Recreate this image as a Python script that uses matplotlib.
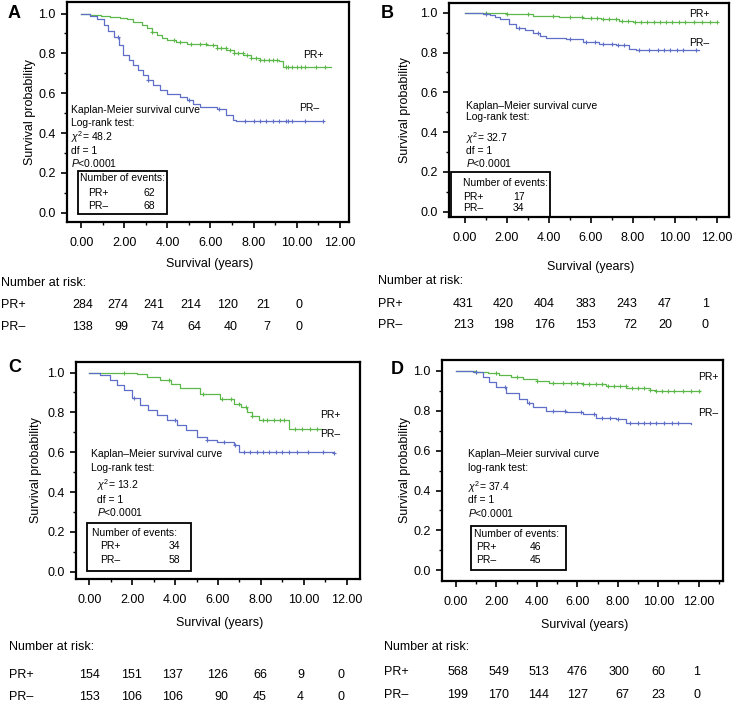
import matplotlib
matplotlib.use('Agg')
import matplotlib.pyplot as plt
from matplotlib.patches import Rectangle
from matplotlib.ticker import MultipleLocator, FormatStrFormatter
import numpy as np

plt.rcParams['font.family'] = ['Liberation Sans', 'DejaVu Sans']
plt.rcParams['mathtext.fontset'] = 'custom'
plt.rcParams['mathtext.rm'] = 'Liberation Sans'
plt.rcParams['mathtext.it'] = 'Liberation Sans:italic'

GREEN = '#5cb84a'
BLUE = '#5f6fc8'

# ---- survival curves (time in years, survival) ----
a_pos_t = [0, 0.42, 0.9, 1.34, 1.8, 2.11, 2.42, 2.8, 3.04, 3.3, 3.5, 3.75, 3.97, 4.4, 4.89,
           5.4, 5.82, 6.3, 6.74, 7.1, 7.52, 7.9, 8.29, 9.2, 9.37, 11.6]
a_pos_s = [1.0, 0.995, 0.99, 0.983, 0.978, 0.975, 0.958, 0.94, 0.925, 0.905, 0.891, 0.878, 0.866,
           0.858, 0.849, 0.845, 0.84, 0.828, 0.815, 0.803, 0.79, 0.778, 0.765, 0.76, 0.732, 0.732]
a_neg_t = [0, 0.42, 0.73, 1.04, 1.25, 1.5, 1.75, 1.96, 2.2, 2.42, 2.65, 2.89, 3.1, 3.35, 3.65,
           3.97, 4.58, 4.89, 5.2, 5.51, 6.28, 6.74, 7.05, 7.2, 11.2]
a_neg_s = [1.0, 0.99, 0.975, 0.941, 0.91, 0.883, 0.84, 0.791, 0.765, 0.741, 0.715, 0.69, 0.665,
           0.64, 0.618, 0.598, 0.581, 0.564, 0.548, 0.531, 0.523, 0.49, 0.464, 0.46, 0.46]

b_pos_t = [0, 1.0, 2.0, 3.26, 4.5, 5.63, 6.5, 7.37, 8.0, 12.0]
b_pos_s = [1.0, 0.998, 0.993, 0.985, 0.98, 0.973, 0.967, 0.961, 0.951, 0.951]
b_neg_t = [0, 0.88, 1.2, 1.45, 1.68, 2.1, 2.47, 2.9, 3.26, 3.6, 3.89, 4.84, 5.63, 6.42, 7.21,
           7.84, 8.15, 11.16]
b_neg_s = [1.0, 0.996, 0.99, 0.98, 0.967, 0.945, 0.925, 0.912, 0.9, 0.885, 0.871, 0.866, 0.853,
           0.844, 0.836, 0.819, 0.811, 0.811]

c_pos_t = [0, 2.22, 2.68, 3.3, 3.8, 4.24, 5.17, 6.1, 6.73, 7.05, 7.35, 7.6, 7.9, 9.3, 10.78]
c_pos_s = [1.0, 0.995, 0.979, 0.962, 0.94, 0.92, 0.894, 0.869, 0.844, 0.825, 0.802, 0.78, 0.76,
           0.718, 0.718]
c_neg_t = [0, 0.5, 0.97, 1.3, 1.6, 2.0, 2.37, 2.75, 3.15, 3.6, 4.08, 4.5, 5.02, 5.5, 5.95, 6.73,
           6.96, 11.4]
c_neg_s = [1.0, 0.99, 0.962, 0.935, 0.911, 0.87, 0.836, 0.81, 0.785, 0.76, 0.735, 0.71, 0.676,
           0.66, 0.651, 0.634, 0.601, 0.598]

d_pos_t = [0, 0.99, 1.6, 2.15, 2.7, 3.3, 4.0, 4.62, 6.27, 7.43, 8.42, 9.57, 9.9, 12.05]
d_pos_s = [1.0, 0.997, 0.99, 0.98, 0.97, 0.96, 0.948, 0.94, 0.935, 0.926, 0.914, 0.905, 0.9, 0.9]
d_neg_t = [0, 0.83, 1.32, 1.65, 1.98, 2.48, 3.14, 3.5, 3.8, 4.46, 5.45, 6.27, 6.93, 7.92, 8.42, 11.6]
d_neg_s = [1.0, 0.997, 0.972, 0.945, 0.92, 0.888, 0.858, 0.84, 0.821, 0.801, 0.796, 0.784, 0.762,
           0.757, 0.737, 0.734]

# censored observations (tick marks on the curves)
a_pos_cens = [3.3, 4.3, 4.6, 5.1, 5.5, 5.8, 6.1, 6.3, 6.5, 6.7, 6.9, 7.1, 7.3, 7.5, 7.7, 7.9, 8.1,
              8.3, 8.5, 8.7, 8.9, 9.1, 9.5, 9.6, 9.8, 10.0, 10.2, 10.4, 10.9, 11.3]
a_neg_cens = [1.7, 3.1, 5.0, 6.4, 7.6, 8.0, 8.3, 8.6, 8.9, 9.2, 9.5, 9.6, 9.8, 10.4, 11.2]
b_pos_cens = [1.0, 2.0, 3.0, 4.2, 5.0, 5.6, 6.0, 6.3, 6.6, 6.9, 7.2, 7.5, 7.8, 8.1, 8.4, 8.7, 9.0,
              9.3, 9.6, 9.9, 10.2, 10.5, 10.9, 11.3, 11.7, 12.0]
b_neg_cens = [1.0, 2.6, 3.5, 5.0, 5.8, 6.2, 6.6, 7.0, 7.3, 7.6, 8.3, 8.8, 9.2, 9.5, 9.8, 10.1,
              10.4, 11.0]
c_pos_cens = [1.6, 3.7, 5.3, 6.2, 6.6, 7.0, 7.3, 7.6, 8.1, 8.3, 8.6, 8.9, 9.1, 9.6, 9.9, 10.3, 10.6]
c_neg_cens = [2.1, 4.0, 5.5, 6.3, 6.8, 7.2, 7.5, 7.8, 8.1, 8.4, 8.7, 9.0, 9.3, 9.7, 10.2, 10.9, 11.4]
d_pos_cens = [1.0, 2.0, 3.0, 4.0, 4.8, 5.3, 5.7, 6.0, 6.3, 6.6, 6.9, 7.2, 7.5, 7.8, 8.1, 8.4, 8.7,
              9.0, 9.3, 9.6, 9.9, 10.2, 10.5, 10.8, 11.2, 11.6, 12.0]
d_neg_cens = [1.0, 2.4, 3.6, 4.8, 5.4, 6.2, 6.8, 7.2, 7.6, 8.0, 8.6, 9.0, 9.3, 9.6, 9.9, 10.3,
              10.7, 11.0]

# statistics and number of events
chi2 = ['48.2', '32.7', '13.2', '37.4']
events_pos = [62, 17, 34, 46]
events_neg = [68, 34, 58, 45]
km_title = ['Kaplan-Meier survival curve', 'Kaplan\u2013Meier survival curve',
            'Kaplan\u2013Meier survival curve', 'Kaplan\u2013Meier survival curve']
lr_title = ['Log-rank test:', 'Log-rank test:', 'Log-rank test:', 'log-rank test:']

# number at risk
risk_a_pos = [284, 274, 241, 214, 120, 21, 0]
risk_a_neg = [138, 99, 74, 64, 40, 7, 0]
risk_b_pos = [431, 420, 404, 383, 243, 47, 1]
risk_b_neg = [213, 198, 176, 153, 72, 20, 0]
risk_c_pos = [154, 151, 137, 126, 66, 9, 0]
risk_c_neg = [153, 106, 106, 90, 45, 4, 0]
risk_d_pos = [568, 549, 513, 476, 300, 60, 1]
risk_d_neg = [199, 170, 144, 127, 67, 23, 0]

W, H = 733, 705
fig = plt.figure(figsize=(W / 100, H / 100), dpi=100)


def fx(x):
    return x / W


def fy(y):
    return 1 - y / H


def step_value(t, s, x):
    i = np.searchsorted(t, x, side='right') - 1
    return np.asarray(s)[np.clip(i, 0, len(s) - 1)]


# layout (pixels) for each panel
panels = [
    dict(letter='A', box=(67, 2, 349, 222), xlim=(-0.66, 12.43), ylim=(-0.047, 1.058),
         pos=(a_pos_t, a_pos_s, a_pos_cens), neg=(a_neg_t, a_neg_s, a_neg_cens),
         letter_xy=(8, 13), ylab_x=30, xlab_y=264,
         km_x=-0.48, km_y=[0.514, 0.45, 0.377, 0.31, 0.248], stat_x=-0.48,
         ev_box=(-0.17, -0.005, 3.97, 0.21), ev_y=[0.173, 0.097, 0.032], ev_x=(-0.05, 0.34, 2.88),
         lab_pos=(10.3, 0.79), lab_neg=(10.1, 0.528),
         risk=(risk_a_pos, risk_a_neg), nar_x=1, nar_y=(283, 305, 327),
         cols=[93, 128, 164, 201, 238, 270, 302]),
    dict(letter='B', box=(449, 3, 729, 217), xlim=(-0.74, 12.59), ylim=(-0.027, 1.049),
         pos=(b_pos_t, b_pos_s, b_pos_cens), neg=(b_neg_t, b_neg_s, b_neg_cens),
         letter_xy=(381, 13), ylab_x=405, xlab_y=267,
         km_x=0.05, km_y=[0.533, 0.474, 0.372, 0.303, 0.246], stat_x=0.05,
         ev_box=(-0.64, -0.027, 4.09, 0.2), ev_y=[0.146, 0.075, 0.02], ev_x=(-0.06, -0.06, 2.31),
         lab_pos=(10.69, 0.995), lab_neg=(10.69, 0.848),
         risk=(risk_b_pos, risk_b_neg), nar_x=378, nar_y=(281, 304, 325),
         cols=[474, 514, 555, 596, 637, 672, 709]),
    dict(letter='C', box=(76, 362, 360, 579), xlim=(-0.62, 12.62), ylim=(-0.037, 1.053),
         pos=(c_pos_t, c_pos_s, c_pos_cens), neg=(c_neg_t, c_neg_s, c_neg_cens),
         letter_xy=(8, 367), ylab_x=36, xlab_y=623,
         km_x=0.07, km_y=[0.592, 0.522, 0.433, 0.361, 0.299], stat_x=0.35,
         ev_box=(-0.12, 0.005, 4.74, 0.245), ev_y=[0.193, 0.131, 0.056], ev_x=(0.11, 0.5, 3.69),
         lab_pos=(10.78, 0.785), lab_neg=(10.78, 0.693),
         risk=(risk_c_pos, risk_c_neg), nar_x=9, nar_y=(647, 675, 697),
         cols=[100, 142, 183, 228, 267, 304, 345]),
    dict(letter='D', box=(442, 360, 723, 581), xlim=(-0.69, 13.2), ylim=(-0.054, 1.055),
         pos=(d_pos_t, d_pos_s, d_pos_cens), neg=(d_neg_t, d_neg_s, d_neg_cens),
         letter_xy=(391, 369), ylab_x=405, xlab_y=625,
         km_x=0.58, km_y=[0.581, 0.515, 0.419, 0.352, 0.288], stat_x=0.58,
         ev_box=(0.74, 0.003, 5.45, 0.221), ev_y=[0.184, 0.117, 0.05], ev_x=(0.9, 0.98, 3.63),
         lab_pos=(11.96, 0.968), lab_neg=(11.96, 0.787),
         risk=(risk_d_pos, risk_d_neg), nar_x=384, nar_y=(647, 672, 695),
         cols=[468, 509, 549, 588, 629, 665, 700]),
]

for k, p in enumerate(panels):
    l, t, r, b = p['box']
    ax = fig.add_axes([fx(l), fy(b), fx(r - l), (b - t) / H])

    for (tt, ss, cens), col in ((p['pos'], GREEN), (p['neg'], BLUE)):
        ax.step(tt, ss, where='post', color=col, lw=0.9)
        ax.plot(cens, step_value(tt, ss, cens), '+', color=col, ms=3, mew=0.8, ls='none')

    ax.set_xlim(*p['xlim'])
    ax.set_ylim(*p['ylim'])
    ax.set_xticks(np.arange(0, 13, 2))
    ax.set_yticks(np.arange(0, 1.01, 0.2))
    ax.xaxis.set_minor_locator(MultipleLocator(1))
    ax.yaxis.set_minor_locator(MultipleLocator(0.1))
    ax.xaxis.set_major_formatter(FormatStrFormatter('%.2f'))
    ax.yaxis.set_major_formatter(FormatStrFormatter('%.1f'))
    ax.tick_params(which='major', direction='out', length=4, width=1.2, labelsize=9, pad=4)
    ax.tick_params(which='minor', direction='out', length=2.5, width=1.0)
    ax.tick_params(axis='x', pad=7)
    for sp in ax.spines.values():
        sp.set_linewidth(1.6)

    # annotation block
    fs = 7.5
    ax.text(p['km_x'], p['km_y'][0], km_title[k], fontsize=fs, va='center')
    ax.text(p['km_x'], p['km_y'][1], lr_title[k], fontsize=fs, va='center')
    ax.text(p['stat_x'], p['km_y'][2], r'$\chi^{2}$= ' + chi2[k], fontsize=fs, va='center')
    ax.text(p['stat_x'], p['km_y'][3], 'df = 1', fontsize=fs, va='center')
    ax.text(p['stat_x'], p['km_y'][4], r'$P$<0.0001', fontsize=fs, va='center')

    x0, y0, x1, y1 = p['ev_box']
    ax.add_patch(Rectangle((x0, y0), x1 - x0, y1 - y0, fill=False, ec='black', lw=1.3,
                           clip_on=False, zorder=3))
    ax.text(p['ev_x'][0], p['ev_y'][0], 'Number of events:', fontsize=fs, va='center')
    ax.text(p['ev_x'][1], p['ev_y'][1], 'PR+', fontsize=fs, va='center')
    ax.text(p['ev_x'][1], p['ev_y'][2], 'PR\u2013', fontsize=fs, va='center')
    ax.text(p['ev_x'][2], p['ev_y'][1], str(events_pos[k]), fontsize=fs, va='center')
    ax.text(p['ev_x'][2], p['ev_y'][2], str(events_neg[k]), fontsize=fs, va='center')

    ax.text(*p['lab_pos'], 'PR+', fontsize=fs, va='center')
    ax.text(*p['lab_neg'], 'PR\u2013', fontsize=fs, va='center')

    # labels
    fig.text(fx(p['letter_xy'][0]), fy(p['letter_xy'][1]), p['letter'], fontsize=13,
             fontweight='bold', va='center', ha='left')
    fig.text(fx(p['ylab_x']), fy((t + b) / 2), 'Survival probability', fontsize=9,
             rotation=90, va='center', ha='center')
    fig.text(fx((l + r) / 2 + 2), fy(p['xlab_y']), 'Survival (years)', fontsize=9,
             va='center', ha='center')

    # number at risk table
    ny0, ny1, ny2 = p['nar_y']
    fig.text(fx(p['nar_x']), fy(ny0), 'Number at risk:', fontsize=9, va='center')
    fig.text(fx(p['nar_x']), fy(ny1), 'PR+', fontsize=9, va='center')
    fig.text(fx(p['nar_x']), fy(ny2), 'PR\u2013', fontsize=9, va='center')
    rpos, rneg = p['risk']
    for cx, vp, vn in zip(p['cols'], rpos, rneg):
        fig.text(fx(cx), fy(ny1), str(vp), fontsize=9, va='center', ha='right')
        fig.text(fx(cx), fy(ny2), str(vn), fontsize=9, va='center', ha='right')

fig.savefig('out.png', dpi=100)
